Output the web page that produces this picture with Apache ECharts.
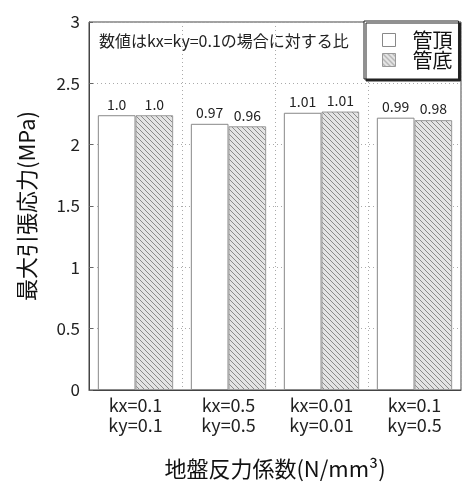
<!DOCTYPE html>
<html>
<head>
<meta charset="utf-8">
<script src="https://cdn.jsdelivr.net/npm/echarts@6/dist/echarts.min.js"></script>
<style>
  html, body { margin: 0; padding: 0; background: #fff; }
  #chart { width: 463px; height: 485px; }
</style>
</head>
<body>
<div id="chart"></div>
<script>
// Ground reaction coefficient cases
const categories = ['kx=0.1\nky=0.1', 'kx=0.5\nky=0.5', 'kx=0.01\nky=0.01', 'kx=0.1\nky=0.5'];
// Maximum tensile stress (MPa)
const topValues = [2.24, 2.17, 2.26, 2.22];     // 管頂
const bottomValues = [2.24, 2.15, 2.27, 2.20];  // 管底
// Ratios relative to kx=ky=0.1
const topRatios = ['1.0', '0.97', '1.01', '0.99'];
const bottomRatios = ['1.0', '0.96', '1.01', '0.98'];
const yTicks = { min: 0, max: 3, interval: 0.5 };

const FONT = '"Noto Sans CJK JP", "Noto Sans", sans-serif';

// Diagonal hatch fill for the pipe-bottom series
function makeHatch() {
  const c = document.createElement('canvas');
  const s = 5;
  c.width = s; c.height = s;
  const g = c.getContext('2d');
  g.fillStyle = '#e4e4e4';
  g.fillRect(0, 0, s, s);
  g.strokeStyle = '#8a8a8a';
  g.lineWidth = 1;
  g.beginPath();
  g.moveTo(-1, -1); g.lineTo(s + 1, s + 1);
  g.moveTo(-1, s - 1); g.lineTo(1, s + 1);
  g.moveTo(s - 1, -1); g.lineTo(s + 1, 1);
  g.stroke();
  return c;
}
const hatch = { image: makeHatch(), repeat: 'repeat' };

const chart = echarts.init(document.getElementById('chart'), null, { renderer: 'canvas' });

const labelStyle = (ratios) => ({
  show: true,
  position: 'top',
  distance: 4,
  fontFamily: FONT,
  fontSize: 14,
  color: '#222',
  formatter: (p) => ratios[p.dataIndex]
});

chart.setOption({
  animation: false,
  backgroundColor: '#fff',
  textStyle: { fontFamily: FONT },
  grid: {
    left: 89, top: 22, right: 2, bottom: 87,
    show: true, borderColor: '#444', borderWidth: 1
  },
  legend: {
    orient: 'vertical',
    left: 364, top: 21,
    padding: [9, 6, 9, 18],
    itemGap: 0,
    itemWidth: 13, itemHeight: 13,
    backgroundColor: '#fff',
    borderColor: '#222', borderWidth: 1,
    shadowColor: '#222', shadowOffsetX: 2, shadowOffsetY: 2, shadowBlur: 0,
    formatter: (name) => '{t|' + name + '}',
    textStyle: {
      fontFamily: FONT, fontSize: 20, lineHeight: 18, color: '#111',
      rich: { t: { fontFamily: FONT, fontSize: 20, lineHeight: 18, color: '#111', padding: [0, 0, 0, 12] } }
    },
    data: [
      { name: '管頂', icon: 'rect', itemStyle: { color: '#fff', borderColor: '#888', borderWidth: 1 } },
      { name: '管底', icon: 'rect', itemStyle: { color: hatch, borderColor: '#999', borderWidth: 1 } }
    ]
  },
  graphic: [{
    type: 'text',
    left: 99, top: 33,
    style: { text: '数値はkx=ky=0.1の場合に対する比', fontFamily: FONT, fontSize: 16, fill: '#222' }
  }],
  xAxis: {
    type: 'category',
    data: categories,
    name: '地盤反力係数(N/mm³)',
    nameLocation: 'middle',
    nameGap: 68,
    nameTextStyle: { fontFamily: FONT, fontSize: 22, color: '#111' },
    axisLine: { show: true, lineStyle: { color: '#444' } },
    axisTick: { show: false },
    axisLabel: { fontFamily: FONT, fontSize: 18, color: '#222', lineHeight: 20, margin: 5 },
    splitLine: { show: true, lineStyle: { color: '#aaa', type: [1, 3] } }
  },
  yAxis: {
    type: 'value',
    min: yTicks.min, max: yTicks.max, interval: yTicks.interval,
    name: '最大引張応力(MPa)',
    nameLocation: 'middle',
    nameGap: 51,
    nameRotate: 90,
    nameTextStyle: { fontFamily: FONT, fontSize: 22, color: '#111' },
    axisLine: { show: true, lineStyle: { color: '#444' } },
    axisTick: { show: true, inside: true, length: 4, lineStyle: { color: '#666' } },
    axisLabel: { fontFamily: FONT, fontSize: 17, color: '#222', margin: 9 },
    splitLine: { show: true, lineStyle: { color: '#aaa', type: [1, 3] } }
  },
  series: [
    {
      name: '管頂',
      type: 'bar',
      data: topValues,
      barGap: '0%',
      barCategoryGap: '19%',
      itemStyle: { color: '#fff', borderColor: '#888', borderWidth: 1 },
      label: labelStyle(topRatios)
    },
    {
      name: '管底',
      type: 'bar',
      data: bottomValues,
      itemStyle: { color: hatch, borderColor: '#999', borderWidth: 1 },
      label: labelStyle(bottomRatios)
    }
  ]
});
</script>
</body>
</html>
